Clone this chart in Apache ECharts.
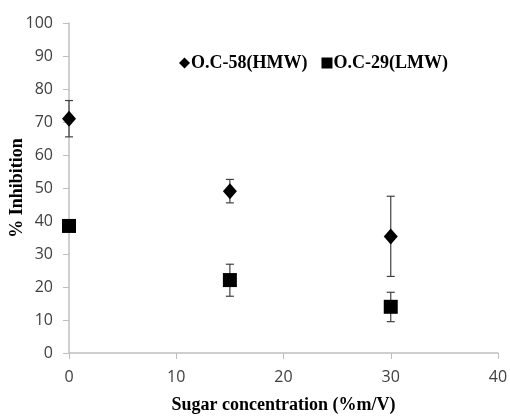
<!DOCTYPE html>
<html><head><meta charset="utf-8">
<script src="https://cdn.jsdelivr.net/npm/echarts@6/dist/echarts.min.js"></script>
<style>html,body{margin:0;padding:0;background:#fff}#c{width:510px;height:416px}</style>
</head><body><div id="c"></div>
<script>
const xValues = [0, 15, 30];
const hmwValues = [71, 49, 35.3];
const hmwErrLow = [65.5, 45.5, 23.2];
const hmwErrHigh = [76.5, 52.6, 47.5];
const lmwValues = [38.5, 22.1, 14.0];
const lmwErrLow = [38.5, 17.2, 9.5];
const lmwErrHigh = [38.5, 26.9, 18.4];
const seriesNames = ['O.C-58(HMW)', 'O.C-29(LMW)'];

function errData(lo, hi) { return xValues.map((x, i) => [x, lo[i], hi[i]]); }
function errRender(params, api) {
  const x = api.value(0), lo = api.value(1), hi = api.value(2);
  if (lo === hi) return null;
  const p1 = api.coord([x, hi]), p2 = api.coord([x, lo]);
  const w = 4;
  const st = { stroke: '#404040', lineWidth: 1.2 };
  return { type: 'group', children: [
    { type: 'line', shape: { x1: p1[0], y1: p1[1], x2: p2[0], y2: p2[1] }, style: st },
    { type: 'line', shape: { x1: p1[0] - w, y1: p1[1], x2: p1[0] + w, y2: p1[1] }, style: st },
    { type: 'line', shape: { x1: p2[0] - w, y1: p2[1], x2: p2[0] + w, y2: p2[1] }, style: st }
  ]};
}

const chart = echarts.init(document.getElementById('c'));
const axisLabel = { fontFamily: 'Open Sans, sans-serif', fontSize: 16, color: '#404040' };
const titleStyle = { fontFamily: 'Liberation Serif, serif', fontWeight: 'bold', fontSize: 18, color: '#000' };
chart.setOption({
  animation: false,
  grid: { left: 69, right: 12, top: 23, bottom: 63, containLabel: false, outerBoundsMode: 'none' },
  legend: {
    left: 174, top: 49, itemGap: 14, itemWidth: 11, itemHeight: 11,
    textStyle: { fontFamily: 'Liberation Serif, serif', fontWeight: 'bold', fontSize: 18, color: '#000', padding: [0,0,0,-4] },
    data: [{ name: seriesNames[0], icon: 'diamond' }, { name: seriesNames[1], icon: 'rect' }]
  },
  xAxis: {
    type: 'value', min: 0, max: 40, interval: 10,
    name: 'Sugar concentration (%m/V)', nameLocation: 'middle', nameGap: 43,
    nameTextStyle: titleStyle,
    axisLine: { lineStyle: { color: '#bfbfbf', width: 1.5 } },
    axisTick: { show: true, length: 6, lineStyle: { color: '#bfbfbf' } },
    axisLabel: Object.assign({ margin: 16 }, axisLabel),
    splitLine: { show: false }
  },
  yAxis: {
    type: 'value', min: 0, max: 100, interval: 10,
    name: '% Inhibition', nameLocation: 'middle', nameGap: 43, nameRotate: 90, nameMoveOverlap: false,
    nameTextStyle: titleStyle,
    axisLine: { show: true, lineStyle: { color: '#bfbfbf', width: 1.5 } },
    axisTick: { show: true, length: 6, lineStyle: { color: '#bfbfbf' } },
    axisLabel: Object.assign({ margin: 16 }, axisLabel),
    splitLine: { show: false }
  },
  series: [
    { type: 'custom', renderItem: errRender, data: errData(hmwErrLow, hmwErrHigh), z: 1, silent: true },
    { type: 'custom', renderItem: errRender, data: errData(lmwErrLow, lmwErrHigh), z: 1, silent: true },
    { name: seriesNames[0], type: 'scatter', symbol: 'diamond', symbolSize: [14, 16], z: 3,
      itemStyle: { color: '#000', opacity: 1 }, data: xValues.map((x, i) => [x, hmwValues[i]]) },
    { name: seriesNames[1], type: 'scatter', symbol: 'rect', symbolSize: 14, z: 3,
      itemStyle: { color: '#000', opacity: 1 }, data: xValues.map((x, i) => [x, lmwValues[i]]) }
  ]
});
</script></body></html>
